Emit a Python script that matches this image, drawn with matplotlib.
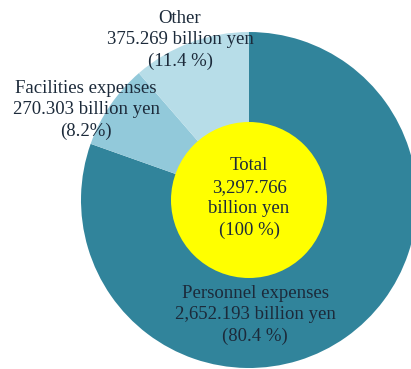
import matplotlib.pyplot as plt
from matplotlib.patches import Circle

# data
labels = ['Personnel expenses', 'Facilities expenses', 'Other']
values = [2652.193, 270.303, 375.269]
pct_text = ['(80.4 %)', '(8.2%)', '(11.4 %)']
total_value = 3297.766
colors = ['#31849b', '#92c9da', '#b7dde8']

plt.rcParams['font.family'] = ['Liberation Serif', 'DejaVu Serif']

fig = plt.figure(figsize=(4.11, 3.69), dpi=100)
ax = fig.add_axes([0, 0, 1, 1])

cx, cy, r = 249, 169, 168
ax.pie(values, colors=colors, startangle=90, counterclock=False,
       center=(cx, cy), radius=r, wedgeprops=dict(linewidth=0),
       frame=True)
ax.set_xlim(0, 411)
ax.set_ylim(0, 369)
ax.set_aspect('equal')
ax.axis('off')

ax.add_patch(Circle((cx, cy), 78, color='#ffff00', zorder=3, linewidth=0))

txt_color = '#1c2a3a'
fs = 13.5
ls = 1.33
ax.text(cx, 171, 'Total\n{:,.3f}\nbillion yen\n(100 %)'.format(total_value),
        ha='center', va='center', fontsize=fs, color=txt_color, zorder=4,
        linespacing=ls)

# label positions (x, y) for each slice
label_pos = [(255, 54), (86, 259), (180, 329)]
for lab, v, p, (x, y) in zip(labels, values, pct_text, label_pos):
    ax.text(x, y, '{}\n{:,.3f} billion yen\n{}'.format(lab, v, p),
            ha='center', va='center', fontsize=fs, color=txt_color,
            zorder=4, linespacing=ls)

fig.savefig('out.png', dpi=100)
